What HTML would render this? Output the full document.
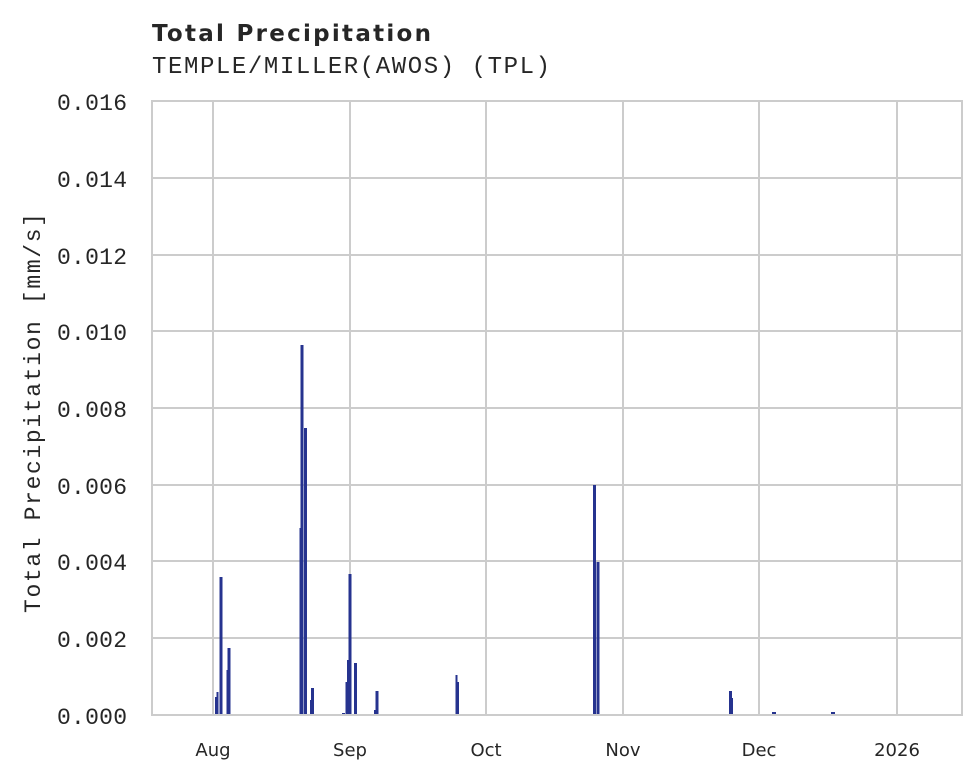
<!DOCTYPE html>
<html><head><meta charset="utf-8"><style>body{margin:0;background:#fff}svg{display:block}</style></head>
<body>
<svg width="980" height="780" xmlns="http://www.w3.org/2000/svg">
<rect width="980" height="780" fill="#fff"/>
<g stroke="#cccccc" stroke-width="2">
<line x1="152" y1="178" x2="962" y2="178"/><line x1="152" y1="255" x2="962" y2="255"/>
<line x1="152" y1="331" x2="962" y2="331"/><line x1="152" y1="408" x2="962" y2="408"/>
<line x1="152" y1="485" x2="962" y2="485"/><line x1="152" y1="561" x2="962" y2="561"/>
<line x1="152" y1="638" x2="962" y2="638"/>
<line x1="213" y1="101" x2="213" y2="715"/><line x1="350" y1="101" x2="350" y2="715"/>
<line x1="486" y1="101" x2="486" y2="715"/><line x1="623" y1="101" x2="623" y2="715"/>
<line x1="759" y1="101" x2="759" y2="715"/><line x1="897" y1="101" x2="897" y2="715"/>
</g>
<g fill="#26338f">
<rect x="215" y="697" width="2" height="18"/><rect x="216.5" y="692" width="2" height="23"/>
<rect x="219.5" y="577" width="3" height="138"/>
<rect x="226.5" y="670" width="2" height="45"/><rect x="227.5" y="648" width="3" height="67"/>
<rect x="299.5" y="528" width="2" height="187"/><rect x="300.5" y="345" width="3" height="370"/>
<rect x="304" y="428" width="3" height="287"/>
<rect x="310" y="700" width="2" height="15"/><rect x="311" y="688" width="3" height="27"/>
<rect x="342" y="713" width="3" height="2"/><rect x="345.5" y="682" width="2" height="33"/>
<rect x="348.5" y="574" width="3" height="141"/><rect x="347" y="660" width="3" height="55"/>
<rect x="354" y="663" width="3" height="52"/>
<rect x="374" y="710" width="2" height="5"/><rect x="375.5" y="691" width="3" height="24"/>
<rect x="455.5" y="675" width="2" height="40"/><rect x="457" y="682" width="2" height="33"/>
<rect x="593" y="485" width="3" height="230"/><rect x="596.5" y="562" width="3" height="153"/>
<rect x="729" y="691" width="3" height="24"/><rect x="731" y="698" width="2" height="17"/>
<rect x="772" y="712" width="4" height="3"/><rect x="831" y="712" width="4" height="3"/>
</g>
<rect x="152" y="101" width="810" height="614" fill="none" stroke="#cccccc" stroke-width="2"/>
<g font-family="Liberation Mono, DejaVu Sans Mono, monospace" font-size="23" fill="#262626" text-anchor="end">
<text x="127" y="110" textLength="70">0.016</text>
<text x="127" y="187" textLength="70">0.014</text>
<text x="127" y="264" textLength="70">0.012</text>
<text x="127" y="340" textLength="70">0.010</text>
<text x="127" y="417" textLength="70">0.008</text>
<text x="127" y="494" textLength="70">0.006</text>
<text x="127" y="570" textLength="70">0.004</text>
<text x="127" y="647" textLength="70">0.002</text>
<text x="127" y="724" textLength="70">0.000</text>
</g>
<g font-family="DejaVu Sans, Liberation Sans, sans-serif" font-size="18" fill="#262626" text-anchor="middle">
<text x="213" y="756">Aug</text><text x="350" y="756">Sep</text><text x="486" y="756">Oct</text>
<text x="623" y="756">Nov</text><text x="759" y="756">Dec</text><text x="897" y="756">2026</text>
</g>
<text transform="translate(40,413) rotate(-90)" text-anchor="middle" font-family="Liberation Mono, DejaVu Sans Mono, monospace" font-size="23" fill="#262626" textLength="400">Total Precipitation [mm/s]</text>
<text x="152" y="41" font-family="DejaVu Sans, Liberation Sans, sans-serif" font-weight="bold" font-size="23" fill="#262626" textLength="279">Total Precipitation</text>
<text x="152" y="73" font-family="Liberation Mono, DejaVu Sans Mono, monospace" font-size="24" fill="#262626" textLength="398">TEMPLE/MILLER(AWOS) (TPL)</text>
</svg>
</body></html>
